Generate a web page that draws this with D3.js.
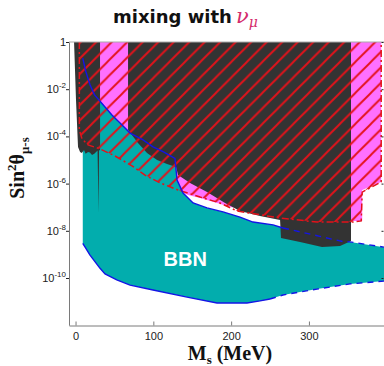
<!DOCTYPE html>
<html>
<head>
<meta charset="utf-8">
<script src="https://cdn.jsdelivr.net/npm/d3@7"></script>
<style>
  body { margin: 0; background: #fff; }
</style>
</head>
<body>
<div id="chart"></div>
<script>
// tick values
var xTicks = [0, 100, 200, 300];
var yTickExp = [0, -2, -4, -6, -8, -10];

// excluded regions: mass (MeV) and log10(sin^2 theta)
var stripMass = [-1.9, 31.5, 31.5, 30.2, 29.6, 28.3, 24.5, 21.2, 18.5, 16.1, 13.0, 10.9, 8.0, 5.8, 3.2, 0.6];
var stripLog  = [0, 0, -4.58, -4.6, -7.25, -4.6, -4.72, -4.79, -4.68, -4.66, -4.74, -4.58, -4.7, -4.66, -4.45, -2.46];

var blockMass = [67.5, 354.1, 354.1, 340.0, 316.8, 288.6, 264.1, 262.9, 237.1, 211.4, 192.2, 169.0, 147.2, 131.8, 129.2, 117.6, 104.8, 91.9, 80.3, 67.5];
var blockLog  = [0, 0, -8.43, -8.64, -8.69, -8.47, -8.31, -7.54, -7.37, -7.16, -6.82, -6.36, -5.97, -5.64, -5.30, -5.17, -5.0, -4.70, -4.28, -3.73];

var pinkMass = [31.5, 392.9, 392.9, 368.5, 368.5, 354.1, 275.7, 198.6, 181.9, 160.1, 144.6, 134.3, 130.5, 95.8, 31.5];
var pinkLog  = [0, 0, -5.93, -6.27, -7.58, -7.58, -7.29, -6.99, -6.82, -6.61, -6.48, -6.34, -6.06, -5.64, -5.0];

// BBN region: upper edge (solid then dashed) and lower edge (solid then dashed)
var bbnTopMass = [9.3, 13.1, 18.6, 24.2, 31.5, 46.5, 61.4, 70.1, 86.8, 99.6, 112.5, 127.8, 130.5, 138.2, 151.1, 169.0, 189.6, 211.4, 228.1, 253.9, 266.7];
var bbnTopLog  = [-0.68, -1.24, -1.81, -2.23, -2.51, -3.08, -3.57, -3.86, -4.15, -4.44, -4.65, -4.93, -5.85, -6.40, -6.82, -7.03, -7.20, -7.42, -7.63, -7.75, -7.88];
var bbnTopDashMass = [266.7, 343.9, 352.8, 404];
var bbnTopDashLog  = [-7.88, -8.46, -8.47, -8.73];
var bbnLowMass = [9.3, 18.6, 31.5, 37.9, 53.0, 70.1, 99.6, 143.3, 181.9, 220.4, 237.1, 250];
var bbnLowLog  = [-8.53, -9.03, -9.59, -9.83, -10.08, -10.30, -10.51, -10.81, -11.06, -11.06, -10.97, -10.89];
var bbnLowDashMass = [250, 266.7, 310.4, 352.8, 404];
var bbnLowDashLog  = [-10.89, -10.72, -10.47, -10.25, -10.11];

// hatched region outline
var hatchMass = [4.9, 4.9, 8.4, 16.1, 31.5, 50.8, 72.6, 89.3, 108.6, 131.8, 160.1, 185.7, 207.6, 262.9, 310.4, 356.9, 367.2, 368.5, 392.9, 392.9];
var hatchLog  = [0, -3.73, -4.11, -4.36, -4.53, -4.83, -5.25, -5.64, -5.97, -6.27, -6.57, -6.82, -7.16, -7.46, -7.63, -7.63, -7.58, -6.36, -5.93, 0];

var W = 384, H = 366;
var plot = {left: 69, right: 384, top: 42, bottom: 325.5};

var svg = d3.select("#chart")
  .append("svg")
    .attr("width", W)
    .attr("height", H);

var x = d3.scaleLinear()
  .domain([-8.4, 396.5])
  .range([plot.left, plot.right]);

var y = d3.scaleLog()
  .domain([1e-12, 1])
  .range([325.2, 42]);

function pts(ms, ls) {
  return ms.map(function (m, i) { return [x(m), y(Math.pow(10, ls[i]))]; });
}
var line = d3.line();

var defs = svg.append("defs");
defs.append("clipPath").attr("id", "clip")
  .append("rect")
    .attr("x", plot.left).attr("y", plot.top)
    .attr("width", plot.right - plot.left)
    .attr("height", plot.bottom - plot.top);

var s = 15.5;
var pat = defs.append("pattern")
  .attr("id", "hatch")
  .attr("patternUnits", "userSpaceOnUse")
  .attr("width", s).attr("height", s)
  .attr("x", 14.3).attr("y", 0);
pat.append("path")
  .attr("d", "M0," + s + "L" + s + ",0M-2,2L2,-2M" + (s - 2) + "," + (s + 2) + "L" + (s + 2) + "," + (s - 2))
  .attr("stroke", "#e3121a")
  .attr("stroke-width", 1.9);

var g = svg.append("g").attr("clip-path", "url(#clip)");

// magenta band
g.append("path")
  .attr("d", line(pts(pinkMass, pinkLog)) + "Z")
  .attr("fill", "#ff70ff");

// BBN region
var bbnPoly = pts(bbnTopMass, bbnTopLog)
  .concat(pts(bbnTopDashMass, bbnTopDashLog))
  .concat(pts(bbnLowDashMass, bbnLowDashLog).reverse())
  .concat(pts(bbnLowMass, bbnLowLog).reverse());
g.append("path")
  .attr("d", line(bbnPoly) + "Z")
  .attr("fill", "#02adad");

// dark regions
g.append("path")
  .attr("d", line(pts(stripMass, stripLog)) + "Z")
  .attr("fill", "#333333");
g.append("path")
  .attr("d", line(pts(blockMass, blockLog)) + "Z")
  .attr("fill", "#333333");

// hatched region and its dash-dot border
var hatchPts = pts(hatchMass, hatchLog);
g.append("path")
  .attr("d", line(hatchPts) + "Z")
  .attr("fill", "url(#hatch)");
g.append("path")
  .attr("d", line(hatchPts))
  .attr("fill", "none")
  .attr("stroke", "#e3121a")
  .attr("stroke-width", 1.5)
  .attr("stroke-dasharray", "7,3,2,3");

// BBN borders
g.append("path")
  .attr("d", line(pts(bbnTopMass, bbnTopLog)))
  .attr("fill", "none").attr("stroke", "#1414e6").attr("stroke-width", 1.4);
g.append("path")
  .attr("d", line(pts(bbnLowMass, bbnLowLog)))
  .attr("fill", "none").attr("stroke", "#1414e6").attr("stroke-width", 1.4);
g.append("path")
  .attr("d", line(pts(bbnTopDashMass, bbnTopDashLog)))
  .attr("fill", "none").attr("stroke", "#1414e6").attr("stroke-width", 1.4)
  .attr("stroke-dasharray", "6,5");
g.append("path")
  .attr("d", line(pts(bbnLowDashMass, bbnLowDashLog)))
  .attr("fill", "none").attr("stroke", "#1414e6").attr("stroke-width", 1.4)
  .attr("stroke-dasharray", "6,5");

g.append("text")
  .attr("x", x(141)).attr("y", y(Math.pow(10, -9.5)))
  .attr("text-anchor", "middle")
  .attr("font-family", "Liberation Sans, Arial, sans-serif")
  .attr("font-weight", "bold")
  .attr("font-size", 20)
  .attr("fill", "#fff")
  .text("BBN");

// axes
var axisColor = "#7a7a7a";
svg.append("line")
  .attr("x1", plot.left).attr("x2", plot.right)
  .attr("y1", 42).attr("y2", 42)
  .attr("stroke", "#aaa").attr("stroke-width", 1);

var xAxis = svg.append("g")
  .attr("transform", "translate(0," + plot.bottom + ")")
  .call(d3.axisBottom(x).tickValues(xTicks).tickSizeInner(-4).tickSizeOuter(0).tickPadding(7));
xAxis.selectAll("path, line").attr("stroke", axisColor);
xAxis.selectAll("text")
  .attr("font-family", "Liberation Sans, Arial, sans-serif")
  .attr("font-size", 11)
  .attr("fill", "#222");

var yVals = yTickExp.map(function (e) { return Math.pow(10, e); });
var yAxis = svg.append("g")
  .attr("transform", "translate(" + plot.left + ",0)")
  .call(d3.axisLeft(y).tickValues(yVals).tickSizeInner(3).tickSizeOuter(0).tickFormat(""));
yAxis.selectAll("path").attr("stroke", axisColor);
yAxis.selectAll("line").attr("stroke", "#222");

var yAxisR = svg.append("g")
  .attr("transform", "translate(" + (plot.right - 0.5) + ",0)")
  .call(d3.axisLeft(y).tickValues(yVals).tickSizeInner(2).tickSizeOuter(0).tickFormat(""));
yAxisR.selectAll("path").remove();
yAxisR.selectAll("line").attr("stroke", "#222");

var yLab = svg.append("g")
  .attr("font-family", "Liberation Sans, Arial, sans-serif")
  .attr("fill", "#222");
yTickExp.forEach(function (e) {
  var t = yLab.append("text")
    .attr("x", 66)
    .attr("y", y(Math.pow(10, e)) + 4)
    .attr("text-anchor", "end")
    .attr("font-size", 11);
  if (e === 0) {
    t.text("1");
  } else {
    t.append("tspan").text("10");
    t.append("tspan").attr("dy", -5).attr("font-size", 8).text(String(e));
  }
});

// axis titles
svg.append("text")
  .attr("x", 230).attr("y", 360)
  .attr("text-anchor", "middle")
  .attr("font-family", "Liberation Serif, Times New Roman, serif")
  .attr("font-weight", "bold")
  .attr("font-size", 20)
  .attr("fill", "#111")
  .call(function (t) {
    t.append("tspan").text("M");
    t.append("tspan").attr("dy", 4).attr("font-size", 13).text("s");
    t.append("tspan").attr("dy", -4).text(" (MeV)");
  });

svg.append("text")
  .attr("transform", "translate(24,168) rotate(-90)")
  .attr("text-anchor", "middle")
  .attr("font-family", "Liberation Serif, Times New Roman, serif")
  .attr("font-weight", "bold")
  .attr("font-size", 20)
  .attr("fill", "#111")
  .call(function (t) {
    t.append("tspan").text("Sin");
    t.append("tspan").attr("dy", -8).attr("font-size", 13).text("2");
    t.append("tspan").attr("dy", 8).text("θ");
    t.append("tspan").attr("dy", 5).attr("font-size", 13).text("μ-s");
  });

// title
svg.append("text")
  .attr("x", 113).attr("y", 23)
  .attr("font-family", "DejaVu Sans, sans-serif")
  .attr("font-weight", "bold")
  .attr("font-size", 18)
  .attr("fill", "#111")
  .call(function (t) {
    t.append("tspan").text("mixing with");
    t.append("tspan").attr("dx", 4)
      .attr("font-family", "DejaVu Serif, serif")
      .attr("font-style", "italic")
      .attr("font-weight", "normal")
      .attr("font-size", 21)
      .attr("fill", "#d42b6b")
      .text("ν");
    t.append("tspan").attr("dy", 4)
      .attr("font-family", "DejaVu Serif, serif")
      .attr("font-style", "italic")
      .attr("font-weight", "normal")
      .attr("font-size", 14)
      .attr("fill", "#d42b6b")
      .text("μ");
  });
</script>
</body>
</html>
